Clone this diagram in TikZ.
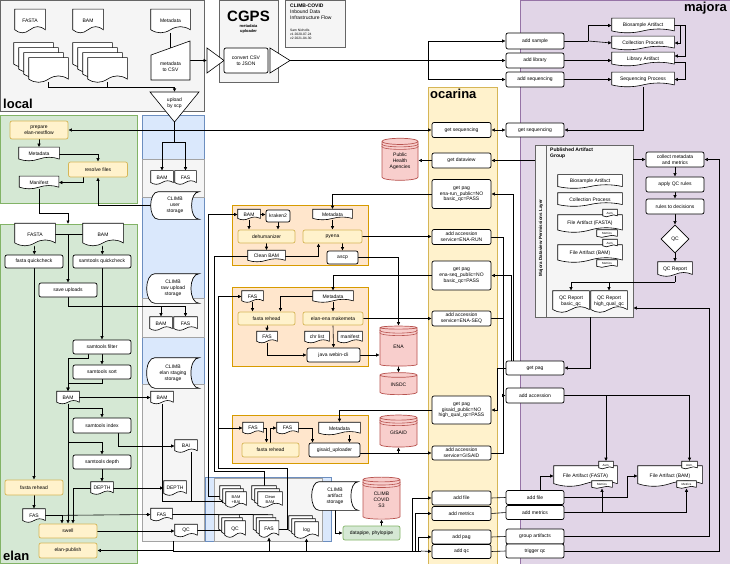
\documentclass[tikz,border=0pt]{standalone}
\usepackage{fontspec}
\setmainfont{Liberation Sans}
\usetikzlibrary{arrows.meta,shapes.geometric,shadows}

\definecolor{grayfill}{HTML}{F5F5F5}
\definecolor{grayline}{HTML}{666666}
\definecolor{greenfill}{HTML}{D5E8D4}
\definecolor{greenline}{HTML}{82B366}
\definecolor{bluefill}{HTML}{DAE8FC}
\definecolor{blueline}{HTML}{6C8EBF}
\definecolor{purplefill}{HTML}{E1D5E7}
\definecolor{purpleline}{HTML}{9673A6}
\definecolor{yellowfill}{HTML}{FFF2CC}
\definecolor{yellowline}{HTML}{D6B656}
\definecolor{orangefill}{HTML}{FFE6CC}
\definecolor{orangeline}{HTML}{D79B00}
\definecolor{redfill}{HTML}{F8CECC}
\definecolor{redline}{HTML}{B85450}

\makeatletter
% document shape with a wavy bottom
\pgfdeclareshape{wavydoc}{%
  \inheritsavedanchors[from=rectangle]%
  \inheritanchorborder[from=rectangle]%
  \inheritanchor[from=rectangle]{center}%
  \inheritanchor[from=rectangle]{north}%
  \inheritanchor[from=rectangle]{south}%
  \inheritanchor[from=rectangle]{east}%
  \inheritanchor[from=rectangle]{west}%
  \inheritanchor[from=rectangle]{north east}%
  \inheritanchor[from=rectangle]{north west}%
  \inheritanchor[from=rectangle]{south east}%
  \inheritanchor[from=rectangle]{south west}%
  \inheritanchor[from=rectangle]{mid}%
  \inheritanchor[from=rectangle]{base}%
  \backgroundpath{%
    \southwest \pgf@xa=\pgf@x \pgf@ya=\pgf@y
    \northeast \pgf@xb=\pgf@x \pgf@yb=\pgf@y
    \edef\wdxa{\pgf@sys@tonumber\pgf@xa}\edef\wdya{\pgf@sys@tonumber\pgf@ya}%
    \edef\wdxb{\pgf@sys@tonumber\pgf@xb}\edef\wdyb{\pgf@sys@tonumber\pgf@yb}%
    \pgfmathsetmacro\wdw{\wdxb-\wdxa}%
    \pgfmathsetmacro\wda{0.13*(\wdyb-\wdya)}%
    \pgfmathsetmacro\wdyl{\wdya+\wda}%
    \pgfmathsetmacro\wdyu{\wdyl+1.333*\wda}%
    \pgfmathsetmacro\wdyd{\wdyl-1.333*\wda}%
    \pgfmathsetmacro\wdxm{\wdxa+0.5*\wdw}%
    \pgfmathsetmacro\wdxp{\wdxb-\wdw/6}%
    \pgfmathsetmacro\wdxq{\wdxb-\wdw/3}%
    \pgfmathsetmacro\wdxr{\wdxa+\wdw/3}%
    \pgfmathsetmacro\wdxs{\wdxa+\wdw/6}%
    \pgfpathmoveto{\pgfqpoint{\wdxa pt}{\wdyb pt}}%
    \pgfpathlineto{\pgfqpoint{\wdxb pt}{\wdyb pt}}%
    \pgfpathlineto{\pgfqpoint{\wdxb pt}{\wdyl pt}}%
    \pgfpathcurveto{\pgfqpoint{\wdxp pt}{\wdyu pt}}{\pgfqpoint{\wdxq pt}{\wdyu pt}}{\pgfqpoint{\wdxm pt}{\wdyl pt}}%
    \pgfpathcurveto{\pgfqpoint{\wdxr pt}{\wdyd pt}}{\pgfqpoint{\wdxs pt}{\wdyd pt}}{\pgfqpoint{\wdxa pt}{\wdyl pt}}%
    \pgfpathclose
  }%
}
% stored data shape
\pgfdeclareshape{storedata}{%
  \inheritsavedanchors[from=rectangle]%
  \inheritanchorborder[from=rectangle]%
  \inheritanchor[from=rectangle]{center}%
  \inheritanchor[from=rectangle]{north}%
  \inheritanchor[from=rectangle]{south}%
  \inheritanchor[from=rectangle]{east}%
  \inheritanchor[from=rectangle]{west}%
  \inheritanchor[from=rectangle]{north east}%
  \inheritanchor[from=rectangle]{north west}%
  \inheritanchor[from=rectangle]{south east}%
  \inheritanchor[from=rectangle]{south west}%
  \backgroundpath{%
    \southwest \pgf@xa=\pgf@x \pgf@ya=\pgf@y
    \northeast \pgf@xb=\pgf@x \pgf@yb=\pgf@y
    \edef\sdxa{\pgf@sys@tonumber\pgf@xa}\edef\sdya{\pgf@sys@tonumber\pgf@ya}%
    \edef\sdxb{\pgf@sys@tonumber\pgf@xb}\edef\sdyb{\pgf@sys@tonumber\pgf@yb}%
    \pgfmathsetmacro\sdr{0.16*(\sdxb-\sdxa)}%
    \pgfmathsetmacro\sdxl{\sdxa+\sdr}%
    \pgfmathsetmacro\sdxc{\sdxa-0.33*\sdr}%
    \pgfmathsetmacro\sdxe{\sdxb-1.33*\sdr}%
    \pgfpathmoveto{\pgfqpoint{\sdxl pt}{\sdyb pt}}%
    \pgfpathlineto{\pgfqpoint{\sdxb pt}{\sdyb pt}}%
    \pgfpathcurveto{\pgfqpoint{\sdxe pt}{\sdyb pt}}{\pgfqpoint{\sdxe pt}{\sdya pt}}{\pgfqpoint{\sdxb pt}{\sdya pt}}%
    \pgfpathlineto{\pgfqpoint{\sdxl pt}{\sdya pt}}%
    \pgfpathcurveto{\pgfqpoint{\sdxc pt}{\sdya pt}}{\pgfqpoint{\sdxc pt}{\sdyb pt}}{\pgfqpoint{\sdxl pt}{\sdyb pt}}%
    \pgfpathclose
  }%
}
\makeatother

\pgfdeclarelayer{bg}
\pgfdeclarelayer{mid}
\pgfsetlayers{bg,mid,main}

\tikzset{
  every node/.style={font=\fontsize{5}{5.8}\selectfont, inner sep=0pt, align=center},
  sz/.style 2 args={minimum width=#1pt, minimum height=#2pt},
  lane/.style={line width=0.8pt},
  proc/.style={draw, fill=white, rounded corners=2pt, line width=0.7pt},
  yproc/.style={draw=yellowline, fill=yellowfill, rounded corners=2pt, line width=0.7pt},
  gproc/.style={draw=greenline, fill=greenfill, rounded corners=2pt, line width=0.7pt},
  doc/.style={shape=wavydoc, draw, fill=white, line width=0.6pt},
  stack/.style={doc, copy shadow={shadow xshift=-6pt, shadow yshift=6pt},
    copy shadow={shadow xshift=-3pt, shadow yshift=3pt}},
  stackbig/.style={doc, copy shadow={shadow xshift=-15pt, shadow yshift=15pt},
    copy shadow={shadow xshift=-10pt, shadow yshift=10pt},
    copy shadow={shadow xshift=-5pt, shadow yshift=5pt}},
  store/.style={shape=storedata, draw, fill=white, line width=0.7pt},
  db/.style={cylinder, shape border rotate=90, aspect=0.3, draw=redline, fill=redfill,
    line width=0.7pt, cylinder uses custom fill, cylinder body fill=redfill, cylinder end fill=redfill},
  ring/.style={draw=redline, line width=0.6pt},
  tag/.style={doc, font=\fontsize{3}{3.5}\selectfont},
  tiny/.style={font=\fontsize{4}{4.5}\selectfont},
  title/.style={font=\fontsize{13}{13}\bfseries\selectfont},
  wire/.style={line width=0.6pt},
  arr/.style={-{Latex[length=3.5pt,width=3.5pt]}, line width=0.6pt},
  arr2/.style={{Latex[length=3.5pt,width=3.5pt]}-{Latex[length=3.5pt,width=3.5pt]}, line width=0.6pt},
}

\begin{document}
\begin{tikzpicture}[x=1pt,y=-1pt]
\useasboundingbox (0,0) rectangle (730,564);

\begin{pgfonlayer}{bg}
% swim lanes
\draw[lane, draw=grayline, fill=grayfill] (0,0) rectangle (204,111);
\draw[lane, draw=grayline, fill=grayfill] (219,0) rectangle (278,82);
\draw[lane, draw=grayline, fill=grayfill] (285,0) rectangle (345,47);
\draw[lane, draw=purpleline, fill=purplefill] (520,0) rectangle (730,564);
\draw[lane, draw=yellowline, fill=yellowfill] (428,87) rectangle (497,564);
\draw[lane, draw=greenline, fill=greenfill] (0,115) rectangle (137,203);
\draw[lane, draw=greenline, fill=greenfill] (0,224) rectangle (137,563);
\draw[lane, draw=blueline, fill=bluefill] (142,115) rectangle (204,541);
\draw[lane, draw=grayline!60, fill=grayfill] (142,159) rectangle (204,197);
\draw[lane, draw=grayline!60, fill=grayfill] (142,298) rectangle (204,337);
\draw[lane, draw=grayline!60, fill=grayfill] (142,384) rectangle (204,541);
\draw[lane, draw=blueline, fill=bluefill] (205,477) rectangle (331,541);
\draw[lane, draw=grayline!60, fill=grayfill] (214,478) rectangle (322,541);
\draw[lane, draw=orangeline, fill=orangefill] (232,205) rectangle (368,265);
\draw[lane, draw=orangeline, fill=orangefill] (232,287) rectangle (368,366);
\draw[lane, draw=orangeline, fill=orangefill] (232,415) rectangle (368,463);
\node[lane, draw=grayline, fill=grayfill, sz={98}{172}] (pubGrp) at (584,231) {};
\draw[lane, grayline] ([xshift=12pt]pubGrp.north west) -- ([xshift=12pt]pubGrp.south west);
\end{pgfonlayer}

% titles
\node[title, anchor=south west] (tLocal) at (3,109) {local};
\node[title, anchor=south west] (tElan) at (3,561) {elan};
\node[title, anchor=north west] (tOcarina) at (430,89) {ocarina};
\node[title, anchor=north east] (tMajora) at (727,2) {majora};
\node[font=\fontsize{15}{15}\bfseries\selectfont] (tCgps) at (248.5,16) {CGPS};
\node[font=\fontsize{4}{4.6}\bfseries\selectfont] (tCgpsSub) at (248.5,29) {metadata\\uploader};
\node[anchor=north west, align=left] (info) at (290,4) {\textbf{CLIMB-COVID}\\Inbound Data\\Infrastructure Flow};
\node[anchor=north west, align=left, font=\fontsize{3.3}{4}\selectfont] (infoB) at (290,29) {Sam Nicholls\\v1 2020-07-24\\v2 2021-04-30};
\node[anchor=north west, align=left, font=\fontsize{5}{5.8}\bfseries\selectfont] (tPub) at (550,148) {Published Artifact\\Group};
\node[rotate=90, font=\fontsize{4.5}{5}\bfseries\selectfont] (tLayer) at (541,238) {Majora Dataview Permissions Layer};

% local
\node[doc, sz={30}{23}] (fastaIn) at (30,21) {FASTA};
\node[doc, sz={30}{23}] (bamIn) at (88,21) {BAM};
\node[doc, sz={39}{23}] (metaIn) at (170.5,21) {Metadata};
\node[stackbig, sz={39}{24}] (fastaStack) at (48.5,70) {};
\node[stackbig, sz={39}{24}] (bamStack) at (107.5,70) {};
\draw[wire, fill=white] (151,55) -- (190,41) -- (190,80) -- (151,80) -- cycle;
\node (toCSV) at (170.5,67) {metadata\\to CSV};
\coordinate (csvOut) at (190,60.5);
\draw[wire, fill=white] (150,92) -- (199,92) -- (174.5,122) -- cycle;
\node (scp) at (174.5,103) {upload\\by scp};
\coordinate (scpS) at (174.5,122);
\coordinate (upJoin) at (174.5,87);

% CGPS
\draw[wire, fill=white] (207,48) -- (224,60.5) -- (207,73) -- cycle;
\coordinate (cgpsIn) at (207,60.5);
\node[proc, sz={44}{25}] (convert) at (246,60.5) {convert CSV\\to JSON};
\draw[wire, fill=white] (270,48) -- (290,60.5) -- (270,73) -- cycle;
\coordinate (cgpsOut) at (290,60.5);
\coordinate (fanJ) at (428,60.5);

% elan
\node[yproc, sz={58}{18}] (prepare) at (39,130) {prepare\\elan-nextflow};
\node[doc, sz={40}{13}] (metaE) at (39,154) {Metadata};
\node[yproc, sz={59}{15}] (resolve) at (98,169.5) {resolve files};
\node[doc, sz={39}{12}] (manifest) at (39,182.5) {Manifest};
\node[doc, sz={40}{22}] (fastaE) at (35,234.5) {FASTA};
\node[doc, sz={40}{22}] (bamE) at (103,234.5) {BAM};
\node[proc, sz={58}{13}] (fqc) at (34,261.5) {fasta quickcheck};
\node[proc, sz={58}{13}] (sqc) at (102,261.5) {samtools quickcheck};
\node[proc, sz={58}{14}] (saveUp) at (68,290) {save uploads};
\node[proc, sz={58}{14}] (sfilter) at (102,347) {samtools filter};
\node[proc, sz={58}{14}] (ssort) at (102,372) {samtools sort};
\node[doc, sz={22}{12}] (bamE2) at (68,397.5) {BAM};
\node[proc, sz={58}{15}] (sindex) at (102,425.5) {samtools index};
\node[proc, sz={58}{14}] (sdepth) at (102,462) {samtools depth};
\node[doc, sz={22}{12}] (depthE) at (102,488) {DEPTH};
\node[yproc, sz={58}{15}] (frehead) at (34,487.5) {fasta rehead};
\node[doc, sz={22}{13}] (fasE) at (34,515.5) {FAS};
\node[yproc, sz={58}{14}] (swell) at (68,531) {swell};
\node[yproc, sz={58}{15}] (publish) at (68,550.5) {elan-publish};
\coordinate (elanIn) at (68,224);
\coordinate (fbJ) at (68,234.5);

% CLIMB storage
\node[doc, sz={22}{13}] (bamU) at (162,177.5) {BAM};
\node[doc, sz={21}{13}] (fasU) at (185.5,177.5) {FAS};
\node[store, sz={48}{27}] (userSt) at (175,205.5) {CLIMB\\user\\storage};
\node[store, sz={52}{29}] (rawSt) at (173,288.5) {CLIMB\\raw upload\\storage};
\node[doc, sz={22}{13}] (bamR) at (161,323.5) {BAM};
\node[doc, sz={23}{13}] (fasR) at (185.5,323.5) {FAS};
\node[store, sz={52}{30}] (stageSt) at (173,373) {CLIMB\\elan staging\\storage};
\node[doc, sz={22}{12}] (bamS) at (162,397.5) {BAM};
\node[doc, sz={22}{12}] (baiS) at (186,446) {BAI};
\node[doc, sz={22}{14}] (depthS) at (175,488) {DEPTH};
\node[doc, sz={21}{12}] (fasS) at (161.5,514.5) {FAS};
\node[doc, sz={22}{12}] (qcS) at (186,530.5) {QC};
\coordinate (stageBot) at (173,541);

% artifacts
\node[stack, tiny, sz={20}{15}] (bambaiK) at (236,499.5) {BAM\\+BAI};
\node[stack, tiny, sz={24}{15}] (cleanK) at (270,499.5) {Clean\\BAM};
\node[stack, sz={20}{16}] (qcK) at (235,529) {QC};
\node[stack, sz={19}{16}] (fasK) at (269,529) {FAS};
\node[stack, sz={23}{16}] (logK) at (306.5,530) {log};
\node[store, sz={46}{28}] (artSt) at (335,496) {CLIMB\\artifact\\storage};
\node[db, minimum width=37pt, minimum height=42pt] (s3) at (381.5,499.5) {CLIMB\\COVID\\S3};
\node[gproc, sz={57}{14}] (datapipe) at (371.5,533) {datapipe, phylopipe};

% ena run
\node[doc, sz={22}{10}] (bamO) at (249,214.5) {BAM};
\node[proc, sz={24}{12}] (kraken) at (278,216) {kraken2};
\node[yproc, sz={57}{13}] (dehum) at (266.5,236.5) {dehumanizer};
\node[doc, sz={37}{11}] (cleanO) at (266.5,256) {Clean BAM};
\node[doc, sz={39}{10}] (metaO1) at (332.5,214.5) {Metadata};
\node[yproc, sz={59}{13}] (pyena) at (332.5,236.5) {pyena};
\node[proc, sz={31}{13}] (ascp) at (342.5,257.5) {ascp};

% ena seq
\node[doc, sz={21}{11}] (fasO2) at (252.5,296.5) {FAS};
\node[doc, sz={40}{11}] (metaO2) at (333,296.5) {Metadata};
\node[yproc, sz={57}{13}] (reheadO2) at (266.5,318.5) {fasta rehead};
\node[yproc, sz={60}{13}] (makemeta) at (333,318.5) {elan-ena makemeta};
\node[doc, sz={20}{11}] (fasO2b) at (267,337) {FAS};
\node[doc, sz={24}{11}] (chrlist) at (317,337) {chr list};
\node[doc, sz={24}{11}] (manifestO) at (350,337) {manifest};
\node[proc, sz={53}{14}] (webin) at (333.5,355) {java webin-cli};
\node[db, minimum width=37pt, minimum height=40pt] (ena) at (398.5,347) {ENA};
\node[db, minimum width=37pt, minimum height=22pt] (insdc) at (398.5,385) {INSDC};

% gisaid
\node[doc, sz={20}{11}] (fasO3) at (253,428) {FAS};
\node[doc, sz={21}{11}] (fasO3b) at (287.5,428) {FAS};
\node[doc, sz={41}{12}] (metaO3) at (339.5,428.5) {Metadata};
\node[yproc, sz={57}{14}] (reheadO3) at (270.5,450) {fasta rehead};
\node[proc, sz={51}{14}] (gisup) at (334.5,450) {gisaid\_uploader};
\node[db, minimum width=37pt, minimum height=32pt] (gisaid) at (398.5,432.5) {GISAID};
\node[db, minimum width=36pt, minimum height=42pt] (pha) at (400,161) {Public\\Health\\Agencies};

% rings under the cylinder tops
\foreach \cyl in {s3,ena,gisaid,pha}{
  \draw[ring] ([yshift=-2.5pt]\cyl.before top) .. controls +(0,4) and +(0,4) .. ([yshift=-2.5pt]\cyl.after top);
  \draw[ring] ([yshift=-5pt]\cyl.before top) .. controls +(0,4) and +(0,4) .. ([yshift=-5pt]\cyl.after top);
}

% ocarina
\node[proc, sz={59}{15}] (getSeqO) at (461.5,130) {get sequencing};
\node[proc, sz={59}{15}] (getDv) at (461.5,160.5) {get dataview};
\node[proc, sz={59}{29}] (getPag1) at (461.5,194) {get pag\\ena-run\_public=NO\\basic\_qc=PASS};
\node[proc, sz={59}{15}] (addAccRun) at (461.5,237) {add accession\\service=ENA-RUN};
\node[proc, sz={59}{29}] (getPag2) at (461.5,275.5) {get pag\\ena-seq\_public=NO\\basic\_qc=PASS};
\node[proc, sz={59}{15}] (addAccSeq) at (461.5,318.5) {add accession\\service=ENA-SEQ};
\node[proc, sz={59}{28}] (getPag3) at (461.5,410) {get pag\\gisaid\_public=NO\\high\_qual\_qc=PASS};
\node[proc, sz={59}{14}] (addAccGis) at (461.5,453) {add accession\\service=GISAID};
\node[proc, sz={59}{14}] (addFileO) at (461.5,498) {add file};
\node[proc, sz={59}{14}] (addMetO) at (461.5,513.5) {add metrics};
\node[proc, sz={59}{14}] (addPagO) at (461.5,537) {add pag};
\node[proc, sz={59}{14}] (addQcO) at (461.5,551.5) {add qc};

% majora
\node[proc, sz={58}{16}] (addSample) at (535,41) {add sample};
\node[proc, sz={58}{15}] (addLib) at (535,60.5) {add library};
\node[proc, sz={58}{15}] (addSeqM) at (535,79.5) {add sequencing};
\node[doc, sz={62}{14}] (bioA) at (643,25.5) {Biosample Artifact};
\node[doc, sz={62}{13}] (colP) at (643,43) {Collection Process};
\node[doc, sz={62}{13}] (libA) at (643,59) {Library Artifact};
\node[doc, sz={62}{14}] (seqP) at (643,79.5) {Sequencing Process};
\node[proc, sz={58}{14}] (getSeqM) at (535,130) {get sequencing};
\node[doc, sz={64}{13}] (pubBio) at (590,181.5) {Biosample Artifact};
\node[doc, sz={64}{13}] (pubCol) at (590,199.5) {Collection Process};
\node[doc, sz={64}{17}] (pubFasta) at (590,223.5) {File Artifact (FASTA)};
\node[tag, sz={14}{7}] (asm1) at (610,213) {Asm.};
\node[tag, sz={20}{7}] (met1) at (607,233.5) {Metrics};
\node[doc, sz={64}{17}] (pubBam) at (590,253.5) {File Artifact (BAM)};
\node[tag, sz={14}{7}] (asm2) at (610,243) {Asm.};
\node[tag, sz={20}{7}] (met2) at (607,263.5) {Metrics};
\node[doc, sz={36}{21}] (qcBasic) at (571,301.5) {QC Report\\basic\_qc};
\node[doc, sz={36}{21}] (qcHigh) at (609,301.5) {QC Report\\high\_qual\_qc};
\node[proc, sz={58}{15}] (collect) at (675,159.5) {collect metadata\\and metrics};
\node[proc, sz={58}{15}] (apply) at (675,184.5) {apply QC rules};
\node[proc, sz={58}{15}] (rules) at (675,206.5) {rules to decisions};
\node[diamond, draw, fill=white, line width=0.7pt, sz={28}{28}] (qcD) at (675,239) {QC};
\node[doc, sz={34}{14}] (qcRep) at (675,269) {QC Report};
\coordinate (qcJ) at (675,282);
\node[proc, sz={58}{14}] (getPagM) at (535,368) {get pag};
\node[proc, sz={58}{15}] (addAccM) at (535,395.5) {add accession};
\node[doc, sz={63}{20}] (fileFa) at (585.5,476) {File Artifact (FASTA)};
\node[tag, sz={14}{7}] (asm3) at (606,465) {Asm.};
\node[tag, sz={20}{7}] (met3) at (602,484.5) {Metrics};
\node[doc, sz={64}{20}] (fileBam) at (670,476) {File Artifact (BAM)};
\node[tag, sz={15}{7}] (asm4) at (689.5,465) {Asm.};
\node[tag, sz={19}{7}] (met4) at (686.5,484.5) {Metrics};
\node[proc, sz={58}{14}] (addFileM) at (535,497.5) {add file};
\node[proc, sz={58}{14}] (addMetM) at (535,512.5) {add metrics};
\node[proc, sz={58}{15}] (groupM) at (535,536.5) {group artifacts};
\node[proc, sz={58}{14}] (triggerM) at (535,551) {trigger qc};
\coordinate (accJ) at (503,395.5);
\coordinate (busL) at (173,551);
\coordinate (busE) at (421,551);

\begin{pgfonlayer}{mid}
% local and cgps
\draw[wire] (metaIn.south) -- (170.5,48);
\draw[wire] (fastaStack.south) |- (upJoin);
\draw[arr] (bamStack.south) |- (upJoin) -- (174.5,92);
\draw[arr] (csvOut) -- (cgpsIn);
\draw[wire] (cgpsOut) -- (fanJ);
\draw[arr] (fanJ) |- (addSample.west);
\draw[arr] (fanJ) -- (addLib.west);
\draw[arr] (fanJ) |- (addSeqM.west);
% majora intake
\draw[wire] (addSample.east) -- (588,41);
\draw[arr] (588,41) |- (bioA.west);
\draw[arr] (588,41) -- (colP.west);
\draw[arr] (addLib.east) -- (addLib.east -| libA.west);
\draw[arr] (addSeqM.east) -- (seqP.west);
\draw[arr] (bioA.east) -| (680,30) |- (colP.east);
\draw[arr] (bioA.east) -| (685,30) |- ([yshift=3pt]libA.east);
\draw[arr] ([yshift=-3pt]libA.east) -| (685,70) |- (seqP.east);
\draw[arr] (seqP.south) |- (getSeqM.east);
\draw[arr2] (getSeqO.east) -- (getSeqM.west);
\draw[arr2] (prepare.east) -- (getSeqO.west);
\draw[arr] (pubGrp.west |- getDv.east) -- (getDv.east);
\draw[arr] (getDv.west) -- (getDv.west -| pha.east);
% elan
\draw[arr] (prepare) -- (metaE);
\draw[arr] (metaE.east) -| (resolve.north);
\draw[arr] ([xshift=-15pt]resolve.south) |- (manifest.east);
\draw[arr] (userSt.west) -| (resolve.south);
\draw[arr] (manifest.south) |- (68,213) -- (elanIn);
\draw[wire] (fastaE.east) -- (bamE.west);
\draw[arr] (fbJ) -- (saveUp.north);
\draw[arr] (fastaE) -- (fqc);
\draw[arr] (bamE) -- (sqc);
\draw[arr] (sqc) -- (sfilter);
\draw[wire] (saveUp.south) |- (fasR.north |- 0,306);
\draw[arr] (bamR.north |- 0,306) -- (bamR.north);
\draw[arr] (fasR.north |- 0,306) -- (fasR.north);
\draw[arr] (sfilter) -- (ssort);
\draw[arr] ([xshift=-14pt]sfilter.south) -- ++(0,4) -| (bamE2.north);
\draw[arr] (ssort.south) -- ++(0,4) -| (bamE2.north);
\draw[arr] (bamE2.east) -- (bamS.west);
\draw[arr] (bamE2.south) -- (swell.north);
\draw[arr] (68,408) -| (sindex.north);
\draw[arr] (68,442) -| (sdepth.north);
\draw[arr] ([xshift=16pt]sindex.south) |- (baiS.west);
\draw[arr] (sdepth) -- (depthE);
\draw[arr] (depthE.east) -- (depthS.west);
\draw[arr] (depthE.west) -| ([xshift=5pt]swell.north);
\draw[arr] (fqc) -- (frehead);
\draw[arr] (frehead) -- (fasE);
\draw[arr] (fasE.east) -- (fasS.west);
\draw[arr] (fasE.east) -| ([xshift=-6pt]swell.north);
\draw[arr] (swell.east) -- (swell.east -| qcS.west);
% climb
\draw[wire] (scpS) -- (174.5,142);
\draw[arr] (174.5,142) -| (bamU.north);
\draw[arr] (174.5,142) -| (fasU.north);
\draw[arr] (bamS.south) |- ([yshift=-2pt]bambaiK.west);
\draw[wire] ([xshift=5pt]baiS.south) |- ([yshift=-2pt]bambaiK.west);
\draw[arr] (qcS.east) -- (qcS.east -| qcK.west);
\draw[arr] (fasS.east) -| ([xshift=-2pt]fasK.north);
\draw[arr] ([yshift=3pt]bambaiK.west) -- ++(-17,0) |- (bamO.west);
\draw[arr] (cleanO.west) -| (214,471) -| ([xshift=-6pt]cleanK.north);
\draw[wire] (fasK.east) -| (287,468) -| (218,428);
\draw[arr] (218,428) |- (fasO2.west);
\draw[arr] (218,428) -- (fasO3.west);
\draw[arr] (stageBot) |- (publish.east);
\draw[wire] (busL) -- (busE);
\draw[arr] (fasK.south |- busL) -- (fasK.south);
\draw[arr] (logK.south |- busL) -- (logK.south);
\draw[arr] (412,551) |- (addFileO.west);
\draw[arr] (415,551) |- (addMetO.west);
\draw[arr] (418,551) |- (addPagO.west);
\draw[arr] (busE) -- (addQcO.west);
\draw[arr] (artSt.south) |- (datapipe.west);
\draw[arr] (datapipe.north -| s3.south) -- (s3.south);
% ena run
\draw[arr] (getPag1.west) -| (metaO1.north);
\draw[arr] (bamO.east) -- (bamO.east -| kraken.west);
\draw[arr] (bamO.south) -- (bamO.south |- dehum.north);
\draw[arr] (kraken.south) -- (kraken.south |- dehum.north);
\draw[arr] (dehum) -- (cleanO);
\draw[arr] (cleanO.east) -| ([xshift=-14pt]pyena.south);
\draw[arr] (metaO1) -- (pyena);
\draw[arr] (pyena.south -| ascp.north) -- (ascp.north);
\draw[arr] (pyena.east) -- (pyena.east -| addAccRun.west);
\draw[arr] (ascp.east) -| (ena.north);
% ena seq
\draw[arr] (getPag2.west) -| (metaO2.north);
\draw[arr] (fasO2.south) -- (fasO2.south |- reheadO2.north);
\draw[arr] (metaO2.west) -| ([xshift=14pt]reheadO2.north);
\draw[arr] (metaO2) -- (makemeta);
\draw[arr] (reheadO2.south -| fasO2b.north) -- (fasO2b.north);
\draw[arr] (makemeta.south) -- (webin.north);
\draw[arr] (fasO2b.south) |- (webin.west);
\draw[arr] (makemeta.east) -- (makemeta.east -| addAccSeq.west);
\draw[arr] (webin.east) -- (webin.east -| ena.west);
\draw[arr] (ena.south) -- (insdc.north);
% gisaid
\draw[arr] (getPag3.west) -| (metaO3.north);
\draw[arr] (fasO3.east) -| ([xshift=-4pt]reheadO3.north);
\draw[arr] (reheadO3.north) |- (fasO3b.west);
\draw[arr] (fasO3b.east) -| ([xshift=-22pt]gisup.north);
\draw[arr] ([xshift=10pt]metaO3.south) -- ([xshift=15pt]gisup.north);
\draw[arr] ([yshift=-3pt]gisup.east) -- (addAccGis.west);
\draw[arr] (gisaid.south |- addAccGis.west) -- (gisaid.south);
% ocarina to majora
\draw[arr] ([xshift=-22pt]getPagM.north) |- (getPag1.east);
\draw[arr] ([xshift=-24pt]getPagM.north) |- (getPag2.east);
\draw[arr] (getPagM.west) -- ++(-8,0) |- (getPag3.east);
\draw[wire] (addAccRun.east) -| (accJ);
\draw[wire] (addAccSeq.east) -| (accJ);
\draw[wire] (addAccGis.east) -| (accJ);
\draw[arr] (accJ) -- (addAccM.west);
\draw[wire] (addFileO.east) -- (addFileM.west);
\draw[wire] (addMetO.east) -- (addMetM.west);
\draw[wire] (addPagO.east) -- (groupM.west);
\draw[wire] (addQcO.east) -- (triggerM.west);
% majora qc
\draw[arr] (pubGrp.east |- collect.west) -- (collect.west);
\draw[arr] (collect) -- (apply);
\draw[arr] (apply) -- (rules);
\draw[arr] (rules) -- (qcD);
\draw[arr] (qcD) -- (qcRep);
\draw[wire] (qcRep.south) -- (qcJ);
\draw[arr] (qcJ) -| (qcBasic.north);
\draw[arr] (qcJ) -| (qcHigh.north);
\draw[arr] (triggerM.east) -| (719,400) |- (collect.east);
\draw[arr] (groupM.east) -| (709,400) |- ([yshift=-77pt]pubGrp.east);
\draw[arr] ([xshift=6pt]pubGrp.south) |- (getPagM.east);
\draw[wire] (addAccM.east) -- (asm4.north |- addAccM.east);
\draw[arr] (asm3.north |- addAccM.east) -- (asm3.north);
\draw[arr] (asm4.north |- addAccM.east) -- (asm4.north);
\draw[arr] ([xshift=5pt]addFileM.north) |- (fileFa.west);
\draw[arr] (addFileM.east) -| (627,490) |- (fileBam.west);
\draw[wire] (addMetM.east) -- (met4.south |- addMetM.east);
\draw[arr] (met3.south |- addMetM.east) -- (met3.south);
\draw[arr] (met4.south |- addMetM.east) -- (met4.south);
\end{pgfonlayer}
\end{tikzpicture}
\end{document}
